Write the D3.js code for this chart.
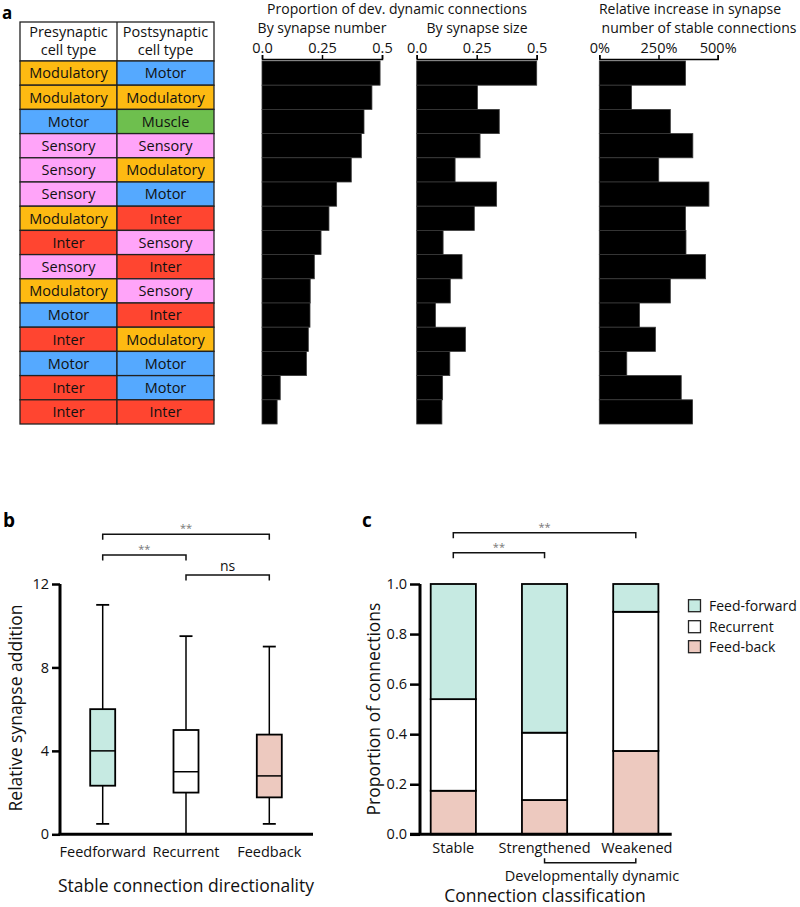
<!DOCTYPE html>
<html><head><meta charset="utf-8">
<script src="https://cdn.jsdelivr.net/npm/d3@7"></script>
<style>body{margin:0;background:#fff}svg{display:block;font-family:"Open Sans",sans-serif}</style>
</head><body><svg id="c" width="800" height="907"></svg>
<script>
// ---------- Panel a data ----------
const preTypes  = ["Modulatory","Modulatory","Motor","Sensory","Sensory","Sensory","Modulatory","Inter","Sensory","Modulatory","Motor","Inter","Motor","Inter","Inter"];
const postTypes = ["Motor","Modulatory","Muscle","Sensory","Modulatory","Motor","Inter","Sensory","Inter","Sensory","Inter","Modulatory","Motor","Motor","Inter"];
const bySynapseNumber = [0.492,0.458,0.425,0.414,0.372,0.311,0.279,0.246,0.218,0.201,0.200,0.193,0.185,0.076,0.063];
const bySynapseSize   = [0.500,0.253,0.344,0.264,0.160,0.333,0.240,0.110,0.189,0.140,0.078,0.203,0.138,0.108,0.105];
const relIncrease     = [364,136,300,395,251,463,364,366,449,300,170,237,116,346,394];
const typeColors = {Modulatory:"#FDBA12",Motor:"#55A9FF",Muscle:"#6EBF4E",Sensory:"#FFA4F9",Inter:"#FF4530"};
const ticksProp = [0,0.25,0.5];
const tickPropLabels = ["0.0","0.25","0.5"];
const ticksPct = [0,250,500];

// ---------- Panel b data ----------
const boxCats = ["Feedforward","Recurrent","Feedback"];
const boxMin  = [0.5,0,0.5];
const boxQ1   = [2.33,2.0,1.77];
const boxMed  = [4.0,3.0,2.8];
const boxQ3   = [6.0,5.0,4.78];
const boxMax  = [11.0,9.5,9.0];
const boxFill = ["#C6EAE2","#FFFFFF","#EDC9BF"];
const bTicks  = [0,4,8,12];

// ---------- Panel c data ----------
const classCats = ["Stable","Strengthened","Weakened"];
const feedBack    = [0.174,0.137,0.333];
const recurrent   = [0.366,0.269,0.556];
const feedForward = [0.460,0.594,0.111];
const seriesNames = ["Feed-forward","Recurrent","Feed-back"];
const seriesColors = ["#C6EAE2","#FFFFFF","#EDC9BF"];
const cTicks = [0,0.2,0.4,0.6,0.8,1.0];

const svg = d3.select("#c");

// ================= Panel a =================
svg.append("text").attr("x",2).attr("y",19).attr("font-weight","bold").attr("font-size",17).text("a");
const rowTop = 61, rowH = 24.2, n = preTypes.length;
const y = d3.scaleBand().domain(d3.range(n)).range([rowTop, rowTop + rowH*n]).paddingInner(0);
const tbl = svg.append("g");
const colX = [20,117,214];
tbl.append("rect").attr("x",20).attr("y",22).attr("width",194).attr("height",rowTop-22).attr("fill","#fff").attr("stroke","#222").attr("stroke-width",1.3);
[["Presynaptic","cell type"],["Postsynaptic","cell type"]].forEach((lines,i)=>{
  const cx=(colX[i]+colX[i+1])/2;
  lines.forEach((t,j)=>tbl.append("text").attr("x",cx).attr("y",37+j*17.5).attr("text-anchor","middle").attr("font-size",14.5).attr("fill","#111").text(t));
});
[preTypes, postTypes].forEach((arr,ci)=>{
  arr.forEach((t,i)=>{
    tbl.append("rect").attr("x",colX[ci]).attr("y",y(i)).attr("width",colX[ci+1]-colX[ci]).attr("height",y.bandwidth())
      .attr("fill",typeColors[t]).attr("stroke","#222").attr("stroke-width",1.3);
    tbl.append("text").attr("x",(colX[ci]+colX[ci+1])/2).attr("y",y(i)+y.bandwidth()/2+5.2).attr("text-anchor","middle")
      .attr("font-size",14.5).attr("fill","#111").text(t);
  });
});
tbl.append("line").attr("x1",117).attr("x2",117).attr("y1",22).attr("y2",rowTop).attr("stroke","#222").attr("stroke-width",1.3);

function hbar(vals, x0, x1, domain, ticks, fmt){
  const x = d3.scaleLinear().domain(domain).range([x0,x1]);
  const g = svg.append("g");
  g.selectAll("rect").data(vals).join("rect")
    .attr("x",x(0)).attr("y",(d,i)=>y(i)).attr("width",d=>x(d)-x(0)).attr("height",y.bandwidth())
    .attr("fill","#000").attr("stroke","#3a3a3a").attr("stroke-width",0.8);
  const ax = g.append("g").attr("transform","translate(0,59)")
    .call(d3.axisTop(x).tickValues(ticks).tickFormat(fmt).tickSize(4).tickPadding(2));
  ax.select(".domain").attr("stroke","#000").attr("stroke-width",1.5);
  ax.selectAll(".tick line").attr("stroke","#000").attr("stroke-width",1.5);
  ax.selectAll("text").attr("font-size",14.5).attr("fill","#111").attr("font-family","Open Sans");
  return x;
}
hbar(bySynapseNumber,262,382,[0,0.5],ticksProp,(d,i)=>tickPropLabels[i]);
hbar(bySynapseSize,416.7,536.7,[0,0.5],ticksProp,(d,i)=>tickPropLabels[i]);
hbar(relIncrease,599.3,717.7,[0,500],ticksPct,d=>d+"%");

const tA = (x,yy,t)=>svg.append("text").attr("x",x).attr("y",yy).attr("text-anchor","middle").attr("font-size",14).attr("fill","#111").text(t);
tA(397,14,"Proportion of dev. dynamic connections");
tA(322,32.5,"By synapse number");
tA(477,32.5,"By synapse size");
tA(690,14,"Relative increase in synapse");
tA(699,32.5,"number of stable connections");

// ================= Panel b =================
svg.append("text").attr("x",3).attr("y",527).attr("font-weight","bold").attr("font-size",19).text("b");
const bx = d3.scalePoint().domain(boxCats).range([102.7,269.3]);
const by = d3.scaleLinear().domain([0,12]).range([834.3,584]);
const gb = svg.append("g");
boxCats.forEach((c,i)=>{
  const cx = bx(c);
  gb.append("line").attr("x1",cx).attr("x2",cx).attr("y1",by(boxMin[i])).attr("y2",by(boxMax[i])).attr("stroke","#000").attr("stroke-width",1.5);
  [boxMin[i],boxMax[i]].forEach(v=>{ if(v>0) gb.append("line").attr("x1",cx-6.5).attr("x2",cx+6.5).attr("y1",by(v)).attr("y2",by(v)).attr("stroke","#000").attr("stroke-width",1.8); });
  gb.append("rect").attr("x",cx-12.5).attr("width",25).attr("y",by(boxQ3[i])).attr("height",by(boxQ1[i])-by(boxQ3[i]))
    .attr("fill",boxFill[i]).attr("stroke","#000").attr("stroke-width",1.8);
  gb.append("line").attr("x1",cx-12.5).attr("x2",cx+12.5).attr("y1",by(boxMed[i])).attr("y2",by(boxMed[i])).attr("stroke","#000").attr("stroke-width",1.5);
});
const yAxB = gb.append("g").attr("transform","translate(60,0)").call(d3.axisLeft(by).tickValues(bTicks).tickSize(8).tickPadding(3));
yAxB.select(".domain").attr("stroke","#000").attr("stroke-width",3).attr("d","M0,834.3V584");
yAxB.selectAll(".tick line").attr("stroke","#000").attr("stroke-width",2.5);
yAxB.selectAll("text").attr("font-size",14.5).attr("fill","#111").attr("font-family","Open Sans");
gb.append("line").attr("x1",58.5).attr("x2",313).attr("y1",834.3).attr("y2",834.3).attr("stroke","#000").attr("stroke-width",3);
boxCats.forEach(c=>gb.append("text").attr("x",bx(c)).attr("y",857).attr("text-anchor","middle").attr("font-size",14.5).attr("fill","#111").text(c));
gb.append("text").attr("x",186).attr("y",892).attr("text-anchor","middle").attr("font-size",17.5).attr("fill","#111").text("Stable connection directionality");
gb.append("text").attr("transform","translate(22,708) rotate(-90)").attr("text-anchor","middle").attr("font-size",17.5).attr("fill","#111").text("Relative synapse addition");

function bracket(g,x1,x2,yy,h,label,ty,fs,col,down=true){
  const s = down?1:-1;
  g.append("path").attr("d",`M${x1},${yy+s*h}V${yy}H${x2}V${yy+s*h}`).attr("fill","none").attr("stroke","#111").attr("stroke-width",1.5);
  if(label) g.append("text").attr("x",(x1+x2)/2).attr("y",ty).attr("text-anchor","middle").attr("font-size",fs).attr("fill",col).text(label);
}
bracket(gb,bx("Feedforward"),bx("Feedback"),534.3,5.5,"**",532,11,"#777");
bracket(gb,bx("Feedforward"),bx("Recurrent"),555,5.5,"**",553,11,"#777");
bracket(gb,bx("Recurrent"),bx("Feedback"),575,5.5,"ns",571,14,"#111");

// ================= Panel c =================
svg.append("text").attr("x",362).attr("y",527).attr("font-weight","bold").attr("font-size",19).text("c");
const cx = d3.scalePoint().domain(classCats).range([453.3,635.8]);
const cy = d3.scaleLinear().domain([0,1]).range([834.3,584]);
const gc = svg.append("g");
const stackData = classCats.map((c,i)=>({cat:c, "Feed-back":feedBack[i], "Recurrent":recurrent[i], "Feed-forward":feedForward[i]}));
const stack = d3.stack().keys(["Feed-back","Recurrent","Feed-forward"])(stackData);
const colorOf = k=>seriesColors[seriesNames.indexOf(k)];
stack.forEach(layer=>{
  gc.selectAll(null).data(layer).join("rect")
    .attr("x",d=>cx(d.data.cat)-22.6).attr("width",45.2)
    .attr("y",d=>cy(Math.min(d[1],1))).attr("height",d=>cy(d[0])-cy(Math.min(d[1],1)))
    .attr("fill",colorOf(layer.key)).attr("stroke","#000").attr("stroke-width",1.8);
});
const yAxC = gc.append("g").attr("transform","translate(420,0)").call(d3.axisLeft(cy).tickValues(cTicks).tickFormat(d3.format(".1f")).tickSize(10).tickPadding(3));
yAxC.select(".domain").attr("stroke","#000").attr("stroke-width",3).attr("d","M0,834.3V584");
yAxC.selectAll(".tick line").attr("stroke","#000").attr("stroke-width",2.5);
yAxC.selectAll("text").attr("font-size",14.5).attr("fill","#111").attr("font-family","Open Sans");
gc.append("line").attr("x1",410).attr("x2",671.7).attr("y1",834.3).attr("y2",834.3).attr("stroke","#000").attr("stroke-width",3);
classCats.forEach(c=>gc.append("text").attr("x",cx(c)+(c==="Weakened"?1:0)).attr("y",853).attr("text-anchor","middle").attr("font-size",14.5).attr("fill","#111").text(c));
bracket(gc,cx("Strengthened"),cx("Weakened"),862.7,4.5,null,0,0,"#111",false);
gc.append("text").attr("x",592).attr("y",881).attr("text-anchor","middle").attr("font-size",14.5).attr("fill","#111").text("Developmentally dynamic");
gc.append("text").attr("x",545).attr("y",902).attr("text-anchor","middle").attr("font-size",17.5).attr("fill","#111").text("Connection classification");
gc.append("text").attr("transform","translate(380,709) rotate(-90)").attr("text-anchor","middle").attr("font-size",17.5).attr("fill","#111").text("Proportion of connections");
bracket(gc,cx("Stable"),cx("Weakened"),532.7,5.5,"**",531,11,"#777");
bracket(gc,cx("Stable"),cx("Strengthened"),552.7,5.5,"**",551,11,"#777");

// legend
const lg = gc.append("g");
seriesNames.forEach((s,i)=>{
  const yy = [605.7,626.7,646.7][i];
  lg.append("rect").attr("x",688.5).attr("y",yy-6).attr("width",12).attr("height",12).attr("fill",seriesColors[i]).attr("stroke","#222").attr("stroke-width",1.3);
  lg.append("text").attr("x",709).attr("y",yy+5.5).attr("font-size",14).attr("fill","#111").text(s);
});
</script></body></html>
